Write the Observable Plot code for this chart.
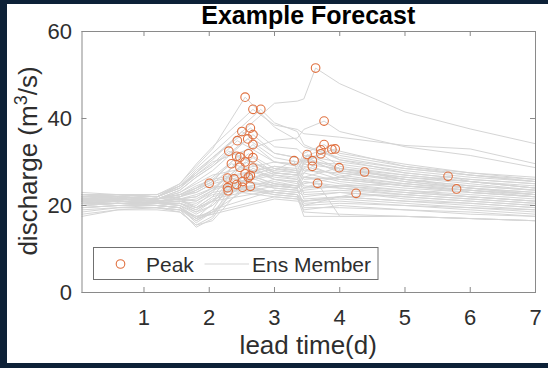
<!DOCTYPE html>
<html>
<head>
<meta charset="utf-8">
<script src="https://cdn.jsdelivr.net/npm/d3@7"></script>
<script src="https://cdn.jsdelivr.net/npm/@observablehq/plot@0.6"></script>
<style>
  html, body { margin: 0; padding: 0; }
  body { width: 548px; height: 368px; background: #0d2137; position: relative; overflow: hidden; font-family: "Liberation Sans", Arial, sans-serif; }
  #panel { position: absolute; left: 7px; top: 4px; width: 541px; height: 359px; background: #fff; }
  #chart { position: absolute; left: 0; top: 0; }
  #overlay { position: absolute; left: 0; top: 0; }
</style>
</head>
<body>
<div id="panel"><div id="chart"></div></div>
<svg id="overlay" width="548" height="368"></svg>
<script>
// ---- data ----
const leadTimes = [0.05, 0.6, 1.2, 1.55, 1.8, 2.05, 3.0, 3.35, 3.45, 4.0, 5.0, 6.0, 7.0];

const peakTime = [2.00, 2.28, 2.28, 2.29, 2.30, 2.34, 2.38, 2.42, 2.42, 2.43,
                  2.47, 2.47, 2.50, 2.51, 2.51, 2.55, 2.55, 2.55, 2.59, 2.60,
                  2.60, 2.63, 2.63, 2.63, 2.67, 2.67, 2.67, 2.67, 2.67, 2.79,
                  3.30, 3.50, 3.58, 3.58, 3.63, 3.66, 3.71, 3.71, 3.76, 3.76,
                  3.88, 3.93, 3.99, 4.25, 4.38, 5.66, 5.79];
const peakQ = [25.1, 26.3, 24.1, 23.4, 32.5, 29.6, 26.1, 31.3, 24.8, 34.9,
               31.1, 28.8, 37.0, 25.5, 24.2, 44.9, 30.0, 27.3, 35.3, 31.9,
               26.5, 37.8, 26.9, 24.4, 42.1, 36.3, 34.0, 31.0, 28.6, 42.1,
               30.3, 31.7, 30.3, 29.0, 51.6, 25.1, 32.8, 31.9, 39.4, 34.0,
               32.9, 33.0, 28.7, 22.8, 27.7, 26.7, 23.8];

// discharge of each ensemble member at leadTimes
const members = [
  [21.5, 21.0, 20.5, 22.0, 24.0, 24.5, 23.0, 22.5, 21.0, 21.5, 20.5, 19.5, 19.0],
  [22.0, 21.5, 21.0, 21.5, 19.5, 22.0, 24.5, 24.0, 25.5, 24.0, 22.5, 21.5, 20.5],
  [20.0, 20.5, 20.0, 19.5, 16.5, 19.0, 22.5, 22.0, 21.0, 22.0, 21.0, 20.5, 19.5],
  [18.5, 19.5, 19.5, 18.5, 15.5, 17.5, 22.0, 21.5, 19.0, 20.0, 19.0, 18.0, 17.5],
  [21.0, 21.5, 21.5, 23.5, 26.5, 29.0, 27.5, 27.0, 29.0, 27.0, 25.0, 24.0, 22.5],
  [22.5, 22.0, 21.5, 22.5, 24.5, 26.0, 26.5, 26.0, 24.0, 24.5, 23.5, 22.0, 21.0],
  [20.5, 21.0, 20.5, 20.0, 17.0, 20.5, 24.0, 23.5, 22.0, 23.0, 22.0, 21.0, 20.0],
  [21.5, 22.0, 21.5, 22.0, 23.5, 25.5, 28.0, 27.5, 26.0, 26.5, 25.0, 23.5, 22.5],
  [18.0, 19.0, 19.5, 19.0, 15.0, 17.0, 23.0, 22.5, 18.5, 18.0, 17.5, 17.0, 16.5],
  [22.0, 22.5, 22.0, 24.5, 27.0, 29.5, 30.0, 29.5, 31.0, 28.5, 26.5, 25.5, 24.0],
  [21.0, 21.0, 21.0, 21.0, 20.0, 23.0, 27.5, 27.0, 28.5, 26.0, 24.5, 23.5, 22.0],
  [20.5, 20.5, 20.0, 20.5, 18.5, 21.0, 26.0, 25.5, 21.5, 22.0, 21.0, 20.0, 19.0],
  [22.5, 22.0, 22.0, 24.0, 27.5, 30.5, 32.0, 31.0, 30.0, 29.5, 27.5, 26.0, 25.0],
  [19.5, 20.0, 20.0, 19.5, 16.0, 18.5, 24.0, 23.5, 20.5, 21.0, 20.0, 19.0, 18.0],
  [17.5, 19.0, 19.0, 18.5, 15.5, 16.5, 22.5, 22.0, 17.5, 17.5, 17.5, 17.0, 16.5],
  [22.0, 22.5, 22.5, 25.0, 29.0, 33.0, 38.0, 35.0, 33.5, 31.0, 28.5, 27.0, 26.0],
  [21.0, 21.5, 21.0, 21.5, 21.0, 23.5, 27.0, 26.5, 27.5, 25.5, 24.0, 23.0, 22.0],
  [20.5, 21.0, 20.5, 20.0, 18.0, 20.0, 25.0, 24.5, 23.0, 23.5, 22.5, 21.5, 20.5],
  [21.5, 22.0, 21.5, 23.0, 25.5, 28.0, 31.0, 30.0, 28.0, 27.5, 26.0, 24.5, 23.5],
  [21.0, 21.5, 21.5, 22.5, 23.0, 25.0, 28.5, 28.0, 26.5, 26.0, 24.5, 23.0, 22.0],
  [20.5, 20.5, 20.0, 19.5, 17.0, 18.0, 24.5, 24.0, 19.5, 19.5, 19.0, 18.5, 17.5],
  [22.5, 22.5, 22.0, 24.0, 28.0, 31.0, 33.5, 33.0, 31.5, 30.0, 28.0, 26.5, 25.5],
  [21.0, 21.0, 20.5, 21.0, 19.5, 21.0, 25.0, 24.5, 25.5, 24.5, 23.0, 22.0, 21.0],
  [19.0, 19.5, 19.5, 19.0, 17.5, 18.5, 23.0, 22.5, 20.0, 20.5, 20.0, 19.5, 18.5],
  [23.0, 22.5, 22.0, 25.0, 29.5, 33.5, 38.5, 37.5, 36.5, 35.7, 33.8, 33.0, 29.6],
  [22.0, 22.0, 21.5, 23.5, 26.5, 29.0, 32.0, 31.0, 29.5, 28.5, 27.0, 25.5, 24.5],
  [21.5, 21.5, 21.5, 22.5, 24.0, 26.5, 30.0, 29.5, 30.5, 28.0, 26.5, 25.0, 23.5],
  [21.0, 21.0, 21.0, 21.5, 22.0, 24.0, 27.5, 27.0, 24.5, 24.0, 23.0, 22.0, 21.0],
  [20.0, 20.5, 20.5, 20.0, 18.5, 20.0, 26.0, 25.5, 26.5, 25.0, 23.5, 22.5, 21.5],
  [22.5, 22.5, 22.0, 24.5, 28.5, 32.0, 39.0, 37.0, 34.0, 30.5, 27.5, 26.0, 25.0],
  [21.0, 21.5, 21.0, 21.0, 21.5, 23.5, 28.0, 27.5, 22.5, 23.0, 22.0, 21.0, 20.0],
  [21.5, 21.5, 21.0, 21.5, 22.5, 24.0, 27.0, 26.0, 30.0, 28.5, 26.0, 24.5, 23.5],
  [20.5, 21.0, 20.5, 20.5, 19.5, 22.0, 26.0, 25.0, 28.5, 27.5, 25.5, 24.0, 23.0],
  [21.0, 21.0, 21.0, 21.5, 21.0, 23.0, 25.5, 24.5, 27.5, 26.5, 24.5, 23.5, 22.5],
  [22.0, 22.5, 22.5, 24.5, 27.5, 31.0, 43.5, 44.0, 44.5, 48.0, 41.5, 37.6, 34.2],
  [20.0, 20.5, 20.0, 19.5, 17.0, 19.0, 23.5, 23.0, 24.0, 17.5, 17.5, 17.0, 16.5],
  [21.5, 22.0, 21.5, 22.5, 24.0, 26.0, 29.0, 28.0, 31.0, 30.5, 28.5, 27.0, 25.5],
  [21.0, 21.5, 21.0, 21.5, 22.0, 24.0, 27.5, 27.0, 29.5, 29.0, 27.0, 25.5, 24.0],
  [22.5, 22.5, 22.0, 24.0, 27.0, 30.0, 35.0, 35.5, 37.5, 37.0, 33.5, 31.5, 28.7],
  [22.0, 22.0, 21.5, 23.0, 25.0, 27.0, 30.0, 29.0, 32.0, 31.5, 29.0, 27.5, 26.0],
  [21.5, 21.5, 21.5, 22.0, 23.0, 25.0, 28.5, 27.5, 30.0, 32.0, 29.5, 27.5, 26.5],
  [21.0, 21.5, 21.0, 22.0, 23.5, 25.5, 29.0, 28.5, 30.5, 32.5, 29.0, 27.0, 25.5],
  [20.5, 21.0, 20.5, 21.0, 20.5, 22.5, 25.0, 24.0, 26.5, 28.0, 25.5, 24.0, 23.0],
  [19.5, 20.0, 20.0, 19.5, 17.5, 18.0, 21.5, 21.0, 20.0, 22.0, 21.5, 20.5, 19.5],
  [20.5, 20.5, 20.5, 20.5, 19.0, 21.5, 24.5, 24.0, 25.0, 26.5, 26.0, 24.0, 22.5],
  [20.0, 20.5, 20.5, 20.5, 19.0, 21.0, 23.5, 23.0, 23.5, 24.5, 25.0, 25.5, 24.0],
  [19.5, 20.0, 19.5, 19.0, 16.5, 18.5, 22.0, 21.5, 21.0, 22.0, 22.5, 23.0, 22.0]
];

const xTicks = [1, 2, 3, 4, 5, 6, 7];
const yTicks = [0, 20, 40, 60];
const titleText = "Example Forecast";
const xLabel = "lead time(d)";
const legendLabels = ["Peak", "Ens Member"];

// ---- build tables ----
const lineData = [];
members.forEach((row, i) => {
  const pts = leadTimes.map((t, j) => ({t, q: row[j], member: i}));
  pts.push({t: peakTime[i], q: peakQ[i], member: i});
  pts.sort((a, b) => a.t - b.t);
  lineData.push(...pts);
});
const peaks = peakTime.map((t, i) => ({t, q: peakQ[i]}));

const W = 541, H = 359;
const mL = 74.5, mR = 13, mT = 27, mB = 71;
const frameW = W - mL - mR, frameH = H - mT - mB;
const tickLen = 5;
const axisGray = "#8a8a8a";
const textGray = "#2e2e2e";
const lineGray = "#d5d5d5";
const peakColor = "#e0703f";

const chart = Plot.plot({
  width: W, height: H,
  marginLeft: mL, marginRight: mR, marginTop: mT, marginBottom: mB,
  x: {domain: [0.05, 7]},
  y: {domain: [0, 60]},
  style: {background: "white", color: textGray, fontFamily: "Liberation Sans, Arial, sans-serif", overflow: "visible"},
  marks: [
    Plot.line(lineData, {x: "t", y: "q", z: "member", stroke: lineGray, strokeWidth: 1}),
    Plot.dot(peaks, {x: "t", y: "q", r: 4.3, stroke: peakColor, strokeWidth: 1.1, fill: "none"}),
    Plot.frame({stroke: axisGray, strokeWidth: 1}),
    Plot.ruleX(xTicks, {x: d => d, insetTop: frameH - tickLen, stroke: axisGray}),
    Plot.ruleX(xTicks, {x: d => d, insetBottom: frameH - tickLen, stroke: axisGray}),
    Plot.ruleY(yTicks, {y: d => d, insetRight: frameW - tickLen, stroke: axisGray}),
    Plot.ruleY(yTicks, {y: d => d, insetLeft: frameW - tickLen, stroke: axisGray}),
    Plot.axisX(xTicks, {tickSize: 0, tickPadding: 17, fontSize: 22, label: null}),
    Plot.axisY(yTicks, {tickSize: 0, tickPadding: 10, fontSize: 22, label: null})
  ]
});
document.getElementById("chart").appendChild(chart);

// ---- overlay: title, axis labels, legend ----
const ns = "http://www.w3.org/2000/svg";
const ov = document.getElementById("overlay");
function el(tag, attrs, text) {
  const e = document.createElementNS(ns, tag);
  for (const k in attrs) e.setAttribute(k, attrs[k]);
  if (text != null) e.textContent = text;
  ov.appendChild(e);
  return e;
}
const ff = "Liberation Sans, Arial, sans-serif";
const fx0 = 7 + mL, fx1 = 7 + W - mR;
const fcx = (fx0 + fx1) / 2;
el("text", {x: fcx, y: 24, "text-anchor": "middle", "font-size": 25, "font-weight": "bold", fill: "#000", "font-family": ff}, titleText);
el("text", {x: fcx, y: 354, "text-anchor": "middle", "font-size": 26, fill: textGray, "font-family": ff}, xLabel);
const yl = el("text", {transform: "translate(37,161) rotate(-90)", "text-anchor": "middle", "font-size": 26, fill: textGray, "font-family": ff});
const t1 = document.createElementNS(ns, "tspan"); t1.textContent = "discharge (m"; yl.appendChild(t1);
const t2 = document.createElementNS(ns, "tspan"); t2.textContent = "3"; t2.setAttribute("font-size", 18); t2.setAttribute("dy", -10); yl.appendChild(t2);
const t3 = document.createElementNS(ns, "tspan"); t3.textContent = "/s)"; t3.setAttribute("dy", 10); yl.appendChild(t3);

// legend
el("rect", {x: 93.5, y: 247.5, width: 284.5, height: 32, fill: "#fff", stroke: "#707070", "stroke-width": 1});
el("circle", {cx: 120.5, cy: 264, r: 4.3, fill: "none", stroke: peakColor, "stroke-width": 1.1});
el("text", {x: 146, y: 271.5, "font-size": 21, fill: textGray, "font-family": ff}, legendLabels[0]);
el("line", {x1: 204.5, x2: 249, y1: 264, y2: 264, stroke: lineGray, "stroke-width": 1});
el("text", {x: 252, y: 271.5, "font-size": 21, fill: textGray, "font-family": ff}, legendLabels[1]);
</script>
</body>
</html>
